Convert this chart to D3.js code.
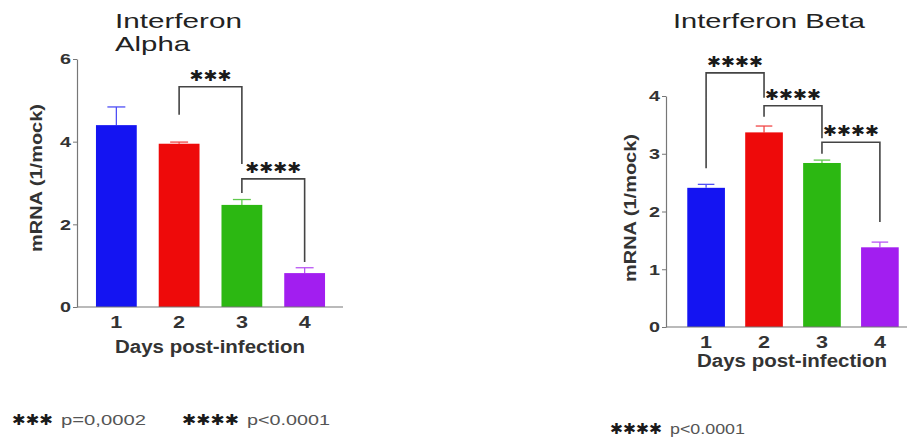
<!DOCTYPE html>
<html>
<head>
<meta charset="utf-8">
<script src="https://cdn.jsdelivr.net/npm/d3@7"></script>
<style>
  body { margin: 0; background: #fff; }
  svg { display: block; font-family: "Liberation Sans", Arial, sans-serif; }
</style>
</head>
<body>
<svg id="chart" width="907" height="438"></svg>
<script>
// data
const days = ['1', '2', '3', '4'];
const barColors = ['#1414f2', '#ee0a0a', '#2cb812', '#a21ef0'];

const alphaMean = [4.4, 3.95, 2.47, 0.82];
const alphaErr  = [0.44, 0.04, 0.13, 0.13];
const alphaTicks = [0, 2, 4, 6];
// significance brackets: from day, to day, stars, bracket height, left leg end, right leg end
const alphaSig = [
  ['2', '3', 3, 5.33, 4.65, 3.46],
  ['3', '4', 4, 3.1, 2.76, 1.09]
];

const betaMean = [2.41, 3.37, 2.84, 1.38];
const betaErr  = [0.06, 0.11, 0.05, 0.09];
const betaTicks = [0, 1, 2, 3, 4];
const betaSig = [
  ['1', '2', 4, 4.4, 2.75, 3.97],
  ['2', '3', 4, 3.83, 3.64, 3.27],
  ['3', '4', 4, 3.2, 3.0, 1.82]
];

const svg = d3.select('#chart');
const STAR = '\u2731';

// the source figure is stretched sideways, so text is fitted to its width
const fit = (sel, w) => sel.attr('textLength', w).attr('lengthAdjust', 'spacingAndGlyphs');

const stars = (sel, n, w) => sel
  .attr('font-family', '"DejaVu Sans", sans-serif')
  .attr('font-size', 15)
  .attr('font-weight', 'bold')
  .attr('fill', '#1a1a1a')
  .attr('dominant-baseline', 'central')
  .text(STAR.repeat(n))
  .call(fit, w);

// one panel
function panel(opts) {
  const g = svg.append('g');

  const x = d3.scaleBand()
    .domain(days)
    .range(opts.xRange)
    .paddingInner(0.35)
    .paddingOuter(0.35);

  const y = d3.scaleLinear()
    .domain([0, opts.yMax])
    .range(opts.yRange);

  const cx = k => x(k) + x.bandwidth() / 2;

  // bars
  g.append('g')
    .selectAll('rect')
    .data(opts.mean)
    .enter()
    .append('rect')
      .attr('x', (d, i) => x(days[i]))
      .attr('y', d => y(d))
      .attr('width', x.bandwidth())
      .attr('height', d => y(0) - y(d))
      .attr('fill', (d, i) => barColors[i]);

  // error bars
  const eb = g.append('g')
    .selectAll('g')
    .data(opts.mean)
    .enter()
    .append('g')
      .attr('stroke', (d, i) => barColors[i])
      .attr('stroke-width', 1.3)
      .attr('opacity', 0.75);

  eb.append('line')
    .attr('x1', (d, i) => cx(days[i]))
    .attr('x2', (d, i) => cx(days[i]))
    .attr('y1', d => y(d))
    .attr('y2', (d, i) => y(d + opts.err[i]));

  eb.append('line')
    .attr('x1', (d, i) => cx(days[i]) - x.bandwidth() * 0.22)
    .attr('x2', (d, i) => cx(days[i]) + x.bandwidth() * 0.22)
    .attr('y1', (d, i) => y(d + opts.err[i]))
    .attr('y2', (d, i) => y(d + opts.err[i]));

  // y axis
  const yAxis = g.append('g')
    .attr('transform', `translate(${opts.axisX},0)`)
    .call(d3.axisLeft(y).tickValues(opts.ticks).tickFormat(d3.format('d')).tickSize(4).tickSizeOuter(0));

  yAxis.select('.domain').attr('stroke', '#777').attr('stroke-width', 1.2);
  yAxis.selectAll('.tick line').attr('stroke', '#777');
  yAxis.selectAll('.tick text')
    .attr('font-size', 15)
    .attr('font-weight', 'bold')
    .attr('fill', '#333')
    .attr('x', -6)
    .call(fit, 11);

  // x axis
  const xAxis = g.append('g')
    .attr('transform', `translate(0,${y(0)})`)
    .call(d3.axisBottom(x).tickSize(0));

  xAxis.select('.domain')
    .attr('d', `M${opts.axisX},0H${opts.axisEnd}`)
    .attr('stroke', '#777')
    .attr('stroke-width', 1.2);
  xAxis.selectAll('.tick text')
    .attr('font-size', 16)
    .attr('font-weight', 'bold')
    .attr('fill', '#333')
    .attr('y', 0)
    .attr('dy', 0)
    .attr('transform', 'translate(0,21)')
    .call(fit, 12);

  // axis titles
  g.append('text')
    .attr('transform', `translate(${opts.yLabelX},${opts.yLabelY}) rotate(-90)`)
    .attr('text-anchor', 'middle')
    .attr('font-size', 16)
    .attr('font-weight', 'bold')
    .attr('fill', '#333')
    .text('mRNA (1/mock)')
    .call(fit, 148);

  g.append('text')
    .attr('x', opts.xLabelX)
    .attr('y', opts.xLabelY)
    .attr('text-anchor', 'middle')
    .attr('font-size', 18)
    .attr('font-weight', 'bold')
    .attr('fill', '#333')
    .text('Days post-infection')
    .call(fit, 190);

  // chart title
  opts.title.forEach(([line, w], i) => {
    g.append('text')
      .attr('x', opts.titleX)
      .attr('y', opts.titleY + i * 23)
      .attr('font-size', 21)
      .attr('fill', '#222')
      .text(line)
      .call(fit, w);
  });

  // significance brackets
  const sig = g.append('g')
    .selectAll('g')
    .data(opts.sig)
    .enter()
    .append('g');

  sig.append('path')
    .attr('d', d => `M${cx(d[0])},${y(d[4])}V${y(d[3])}H${cx(d[1])}V${y(d[5])}`)
    .attr('fill', 'none')
    .attr('stroke', '#444')
    .attr('stroke-width', 1.6);

  sig.append('text')
    .attr('x', d => (cx(d[0]) + cx(d[1])) / 2)
    .attr('y', d => y(d[3]) - 11)
    .attr('text-anchor', 'middle')
    .each(function(d) { d3.select(this).call(stars, d[2], d[2] * 14); });
}

panel({
  mean: alphaMean, err: alphaErr, ticks: alphaTicks, sig: alphaSig, yMax: 6,
  xRange: [74, 347], yRange: [307, 59], axisX: 77, axisEnd: 343,
  yLabelX: 42, yLabelY: 178, xLabelX: 210, xLabelY: 353,
  title: [['Interferon', 127], ['Alpha', 75]], titleX: 115, titleY: 28
});

panel({
  mean: betaMean, err: betaErr, ticks: betaTicks, sig: betaSig, yMax: 4,
  xRange: [667, 919], yRange: [327, 96], axisX: 666, axisEnd: 907,
  yLabelX: 636, yLabelY: 208, xLabelX: 792, xLabelY: 367,
  title: [['Interferon Beta', 192]], titleX: 673, titleY: 28
});

// p-value legends
const legendX = [12, 182, 610];
const legendY = [420, 420, 429];
const legendStars = [3, 4, 4];
const legendText = ['p=0,0002', 'p<0.0001', 'p<0.0001'];
const legendStarW = [41, 57, 52];
const legendTextW = [85, 83, 75];

const leg = svg.append('g')
  .selectAll('g')
  .data(legendText)
  .enter()
  .append('g')
    .attr('transform', (d, i) => `translate(${legendX[i]},${legendY[i]})`);

leg.append('text')
  .each(function(d, i) { d3.select(this).call(stars, legendStars[i], legendStarW[i]); });

leg.append('text')
  .attr('x', (d, i) => legendStarW[i] + 8)
  .attr('y', 5)
  .attr('font-size', 14)
  .attr('fill', '#555')
  .text(d => d)
  .each(function(d, i) { d3.select(this).call(fit, legendTextW[i]); });
</script>
</body>
</html>
